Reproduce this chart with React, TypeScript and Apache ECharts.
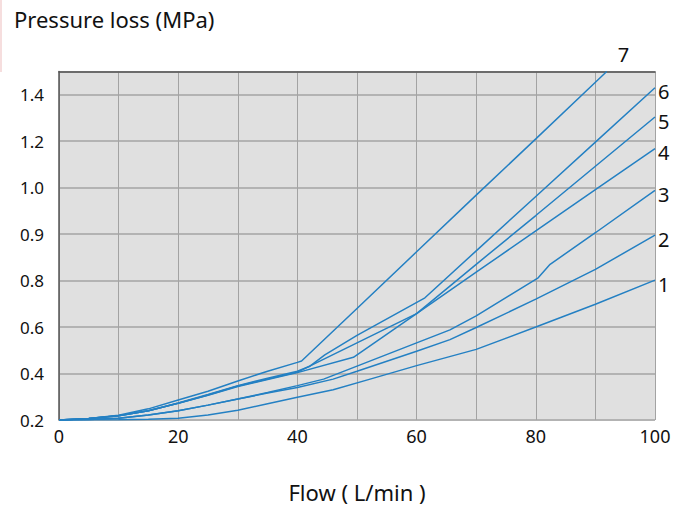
import React, { useEffect, useRef } from "react";
import * as echarts from "echarts";

// Y axis: evenly spaced gridlines carrying these (non-linear) pressure labels, MPa
const Y_TICKS = [0.2, 0.4, 0.6, 0.8, 0.9, 1.0, 1.2, 1.4];
const Y_NEXT_TICK = 1.6; // virtual gridline above the last label
const Y_TOP_MPA = 1.5;
// X axis: flow, L/min
const X_MIN = 0;
const X_MAX = 100;
const X_GRID_STEP = 10;
const X_LABEL_STEP = 20;

// Curves: [flow L/min, pressure loss MPa]
const CURVE_1: [number, number][] = [
  [0, 0.2], [10, 0.201], [15, 0.203], [20, 0.208], [25, 0.222], [30, 0.242], [35, 0.27],
  [40, 0.298], [46, 0.33], [52.2, 0.376], [60, 0.434], [70, 0.504], [80, 0.6], [90, 0.698], [100, 0.801],
];
const CURVE_2: [number, number][] = [
  [0, 0.2], [5, 0.202], [10, 0.208], [15, 0.222], [20, 0.24], [25, 0.264], [30, 0.29], [35, 0.316],
  [40, 0.34], [46, 0.376], [50, 0.41], [60, 0.496], [65.6, 0.546], [70, 0.598], [80, 0.72],
  [90, 0.824], [100, 0.898],
];
const CURVE_3: [number, number][] = [
  [0, 0.2], [5, 0.202], [10, 0.208], [15, 0.222], [20, 0.24], [25, 0.264], [30, 0.29], [35, 0.318],
  [40, 0.348], [44.4, 0.376], [50, 0.432], [60, 0.532], [65.6, 0.588], [70, 0.648], [80.4, 0.806],
  [82.4, 0.835], [90, 0.903], [100, 0.994],
];
const CURVE_4: [number, number][] = [
  [0, 0.2], [5, 0.206], [10, 0.218], [15, 0.24], [20, 0.272], [25, 0.306], [30, 0.344], [35, 0.374],
  [40, 0.404], [49.4, 0.47], [60, 0.658], [70, 0.818], [80, 0.907], [90, 0.996], [100, 1.168],
];
const CURVE_5: [number, number][] = [
  [0, 0.2], [5, 0.206], [10, 0.218], [15, 0.24], [20, 0.272], [25, 0.308], [30, 0.346], [35, 0.376],
  [40, 0.406], [50, 0.532], [60, 0.658], [70, 0.835], [80, 0.94], [90, 1.092], [100, 1.304],
];
const CURVE_6: [number, number][] = [
  [0, 0.2], [5, 0.206], [10, 0.218], [15, 0.24], [20, 0.273], [25, 0.31], [30, 0.348], [35, 0.38],
  [40, 0.41], [42, 0.43], [44.6, 0.48], [50, 0.564], [61.4, 0.726], [70, 0.864], [80, 0.981],
  [90, 1.196], [100, 1.43],
];
const CURVE_7: [number, number][] = [
  [0, 0.2], [5, 0.206], [10, 0.22], [15, 0.248], [20, 0.286], [25, 0.324], [30, 0.368], [35, 0.41],
  [40, 0.448], [40.7, 0.454], [50, 0.68], [60, 0.862], [70, 0.984], [80, 1.21], [90, 1.454], [91.9, 1.5],
];
const CURVE_NAMES = ["1", "2", "3", "4", "5", "6", "7"];
const CURVES = [CURVE_1, CURVE_2, CURVE_3, CURVE_4, CURVE_5, CURVE_6, CURVE_7];

// map MPa onto the evenly spaced gridline index
function toGrid(mpa: number): number {
  const stops = [...Y_TICKS, Y_NEXT_TICK];
  for (let i = 0; i < stops.length - 1; i++) {
    if (mpa <= stops[i + 1] || i === stops.length - 2) {
      return i + (mpa - stops[i]) / (stops[i + 1] - stops[i]);
    }
  }
  return 0;
}

const FONT = "'Noto Sans', 'DejaVu Sans', sans-serif";
const LINE_COLOR = "#2480c3";

export default function App() {
  const ref = useRef<HTMLDivElement>(null);
  useEffect(() => {
    if (!ref.current) return;
    const chart = echarts.init(ref.current, null, { renderer: "svg" });
    const yMax = toGrid(Y_TOP_MPA);
    chart.setOption({
      animation: false,
      backgroundColor: "#ffffff",
      textStyle: { fontFamily: FONT },
      title: {
        text: "Pressure loss (MPa)",
        left: 9,
        top: 3,
        textStyle: { fontFamily: FONT, fontSize: 22, fontWeight: "normal", color: "#111" },
      },
      grid: {
        left: 59,
        width: 596,
        top: 71.5,
        height: 349.5,
        show: true,
        backgroundColor: "#e0e0e0",
        borderWidth: 0,
      },
      xAxis: [
        {
          type: "value",
          min: X_MIN,
          max: X_MAX,
          interval: X_GRID_STEP,
          name: "Flow ( L/min )",
          nameLocation: "middle",
          nameGap: 61,
          nameTextStyle: { fontFamily: FONT, fontSize: 22, color: "#111" },
          axisLine: { show: false },
          axisTick: { show: false },
          axisLabel: {
            margin: 7,
            fontFamily: FONT,
            fontSize: 18,
            color: "#111",
            formatter: (v: number) => (v % X_LABEL_STEP === 0 ? String(v) : ""),
          },
          splitLine: { show: true, lineStyle: { color: "#a3a3a3", width: 1 } },
        },
        {
          type: "value",
          position: "top",
          min: X_MIN,
          max: X_MAX,
          axisLine: { show: true, onZero: false, lineStyle: { color: "#555", width: 1.5 } },
          axisTick: { show: false },
          axisLabel: { show: false },
          splitLine: { show: false },
        },
      ],
      yAxis: {
        type: "value",
        min: 0,
        max: yMax,
        interval: 1,
        axisLine: { show: true, onZero: false, lineStyle: { color: "#555", width: 1.5 } },
        axisTick: { show: false },
        axisLabel: {
          margin: 15,
          fontFamily: FONT,
          fontSize: 17,
          color: "#111",
          padding: [0, 0, 10, 0],
          formatter: (v: number) => {
            const i = Math.round(v);
            return Math.abs(v - i) < 1e-6 && i < Y_TICKS.length ? Y_TICKS[i].toFixed(1) : "";
          },
        },
        splitLine: { show: true, lineStyle: { color: "#b3b3b3", width: 2 } },
      },
      series: CURVES.map((c, idx) => ({
        type: "line",
        name: CURVE_NAMES[idx],
        xAxisIndex: 0,
        data: c.map(([x, p]) => [x, toGrid(p)]),
        showSymbol: false,
        symbol: "none",
        smooth: false,
        lineStyle: { color: LINE_COLOR, width: 1.5 },
        endLabel: {
          show: true,
          formatter: CURVE_NAMES[idx],
          distance: 3,
          offset: idx === 6 ? [8, -17] : [0, 4],
          fontFamily: FONT,
          fontSize: 20,
          color: "#111",
        },
        z: 3,
      })),
      graphic: [
        {
          type: "line",
          shape: { x1: 1, y1: 0, x2: 1, y2: 72 },
          style: { stroke: "#f6dede", lineWidth: 2 },
        },
      ],
    });
    return () => chart.dispose();
  }, []);
  return (
    <div
      ref={ref}
      style={{ position: "fixed", left: 0, top: 0, width: 679, height: 508 }}
    />
  );
}
